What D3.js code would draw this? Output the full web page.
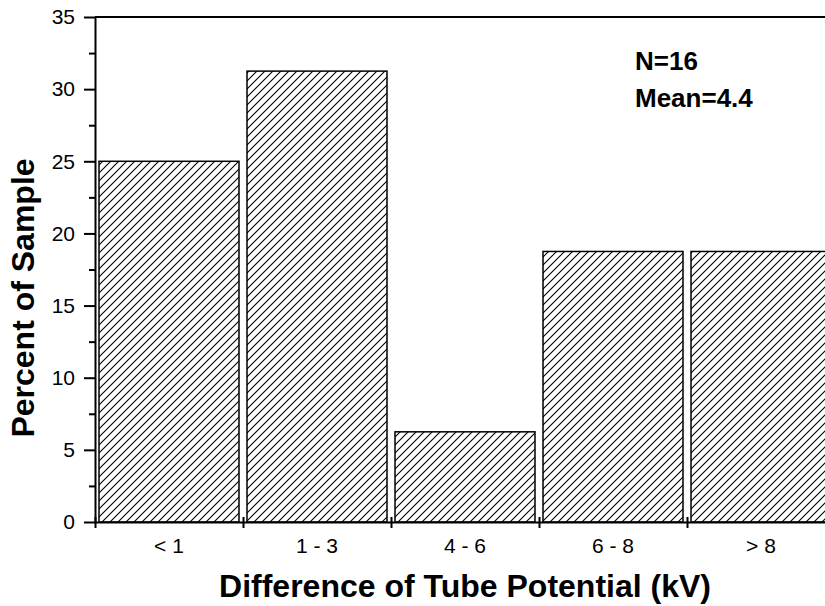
<!DOCTYPE html>
<html>
<head>
<meta charset="utf-8">
<script src="https://cdn.jsdelivr.net/npm/d3@7"></script>
<style>
  html, body { margin: 0; padding: 0; background: #fff; }
  svg { display: block; font-family: "Liberation Sans", Arial, sans-serif; }
</style>
</head>
<body>
<svg id="chart" width="825" height="606"></svg>
<script>
// Distribution of tube potential differences (N = 16)
const categories = ["< 1", "1 - 3", "4 - 6", "6 - 8", "> 8"];
const percents = [25, 31.25, 6.25, 18.75, 18.75];
const yTicks = [0, 5, 10, 15, 20, 25, 30, 35];
const yMinorTicks = [2.5, 7.5, 12.5, 17.5, 22.5, 27.5, 32.5];
const notes = ["N=16", "Mean=4.4"];

const W = 825, H = 606;
const margin = { left: 95, top: 17, bottom: 522, right: 835 };
const FONT = "Liberation Sans, Arial, sans-serif";

const svg = d3.select("#chart");

// Diagonal hatch fill
const defs = svg.append("defs");
const pat = defs.append("pattern")
  .attr("id", "hatch")
  .attr("patternUnits", "userSpaceOnUse")
  .attr("width", 8).attr("height", 8);
pat.append("rect").attr("width", 8).attr("height", 8).attr("fill", "#fff");
pat.append("path")
  .attr("d", "M-2,2 L2,-2 M0,8 L8,0 M6,10 L10,6")
  .attr("stroke", "#000").attr("stroke-width", 1.1);

const x = d3.scaleBand()
  .domain(categories)
  .range([margin.left, margin.right])
  .paddingInner(8 / 148)
  .paddingOuter(4 / 148);

const xEdge = d3.scaleLinear()
  .domain([0, categories.length])
  .range([margin.left, margin.right]);

const y = d3.scaleLinear()
  .domain([0, 35])
  .range([margin.bottom, margin.top]);

// Bars
svg.append("g")
  .selectAll("rect")
  .data(categories.map((c, i) => ({ c, v: percents[i] })))
  .join("rect")
  .attr("x", d => x(d.c))
  .attr("y", d => y(d.v))
  .attr("width", x.bandwidth())
  .attr("height", d => y(0) - y(d.v))
  .attr("fill", "url(#hatch)")
  .attr("stroke", "#000")
  .attr("stroke-width", 1.5);

// Top frame line
svg.append("line")
  .attr("x1", margin.left).attr("x2", W)
  .attr("y1", y(35)).attr("y2", y(35))
  .attr("stroke", "#000").attr("stroke-width", 2);

// Y axis
const yAxis = svg.append("g")
  .attr("transform", `translate(${margin.left},0)`)
  .call(d3.axisLeft(y).tickValues(yTicks).tickSize(11).tickPadding(9).tickSizeOuter(0));
yAxis.attr("font-size", 21).attr("font-family", FONT);
yAxis.select(".domain").attr("stroke-width", 2);
yAxis.selectAll(".tick line").attr("stroke-width", 2);

svg.append("g")
  .attr("transform", `translate(${margin.left},0)`)
  .call(d3.axisLeft(y).tickValues(yMinorTicks).tickSize(6).tickFormat(""))
  .call(g => g.select(".domain").remove())
  .selectAll(".tick line").attr("stroke-width", 2);

// X axis: ticks at category boundaries, crossing the baseline
const xAxis = svg.append("g")
  .attr("transform", `translate(0,${margin.bottom})`)
  .call(d3.axisBottom(xEdge).tickValues(d3.range(categories.length + 1)).tickSize(6).tickFormat("").tickSizeOuter(0));
xAxis.select(".domain").attr("stroke-width", 2);
xAxis.selectAll(".tick line").attr("y1", -5).attr("stroke-width", 2);

// Category labels
svg.append("g")
  .attr("font-size", 21)
  .selectAll("text")
  .data(categories)
  .join("text")
  .attr("x", d => x(d) + x.bandwidth() / 2)
  .attr("y", 553)
  .attr("text-anchor", "middle")
  .text(d => d);

// Axis titles
svg.append("text")
  .attr("x", (margin.left + margin.right) / 2)
  .attr("y", 597)
  .attr("text-anchor", "middle")
  .attr("font-size", 32)
  .attr("font-weight", "bold")
  .text("Difference of Tube Potential (kV)");

svg.append("text")
  .attr("transform", "translate(34,298) rotate(-90)")
  .attr("text-anchor", "middle")
  .attr("font-size", 32)
  .attr("font-weight", "bold")
  .text("Percent of Sample");

// Summary annotation
svg.append("g")
  .selectAll("text")
  .data(notes)
  .join("text")
  .attr("x", 635)
  .attr("y", (d, i) => 70 + i * 37)
  .attr("font-size", 26)
  .attr("font-weight", "bold")
  .text(d => d);
</script>
</body>
</html>
